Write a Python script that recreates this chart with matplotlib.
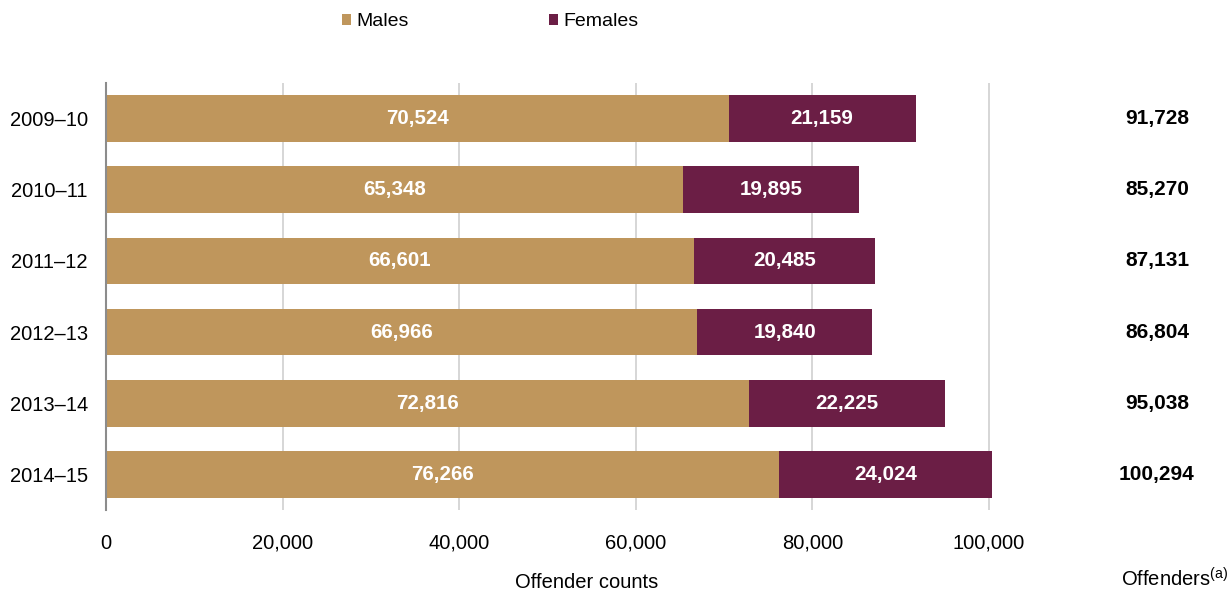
import matplotlib
matplotlib.use("Agg")
import matplotlib.pyplot as plt
import matplotlib.transforms as mtransforms

plt.rcParams["font.family"] = ["Liberation Sans", "DejaVu Sans"]
plt.rcParams["mathtext.fontset"] = "custom"
plt.rcParams["mathtext.rm"] = "Liberation Sans"

# Offender counts by financial year
years = ["2009–10", "2010–11", "2011–12", "2012–13", "2013–14", "2014–15"]
males = [70524, 65348, 66601, 66966, 72816, 76266]
females = [21159, 19895, 20485, 19840, 22225, 24024]
totals = [91728, 85270, 87131, 86804, 95038, 100294]
x_ticks = [0, 20000, 40000, 60000, 80000, 100000]

MALE_COLOR = "#BF965C"
FEMALE_COLOR = "#6B1E45"

W, H = 1230, 591
fig = plt.figure(figsize=(W / 100, H / 100), dpi=100)

ax_left, ax_right, ax_top, ax_bottom = 106, 993.4, 83, 510
ax = fig.add_axes([ax_left / W, 1 - ax_bottom / H,
                   (ax_right - ax_left) / W, (ax_bottom - ax_top) / H])

ypos = list(range(len(years)))
bar_h = 0.655
b_m = ax.barh(ypos, males, height=bar_h, color=MALE_COLOR, label="Males", zorder=2)
b_f = ax.barh(ypos, females, left=males, height=bar_h, color=FEMALE_COLOR,
              label="Females", zorder=2)

ax.bar_label(b_m, labels=[f"{v:,}" for v in males], label_type="center",
             color="white", fontsize=14.8, fontweight="bold")
ax.bar_label(b_f, labels=[f"{v:,}" for v in females], label_type="center",
             color="white", fontsize=14.8, fontweight="bold")

ax.set_xlim(0, 100500)
ax.set_ylim(len(years) - 0.5, -0.5)
ax.set_xticks(x_ticks)
ax.set_xticklabels([f"{v:,}" for v in x_ticks])
ax.set_yticks(ypos)
ax.set_yticklabels(years)
ax.tick_params(axis="both", length=0, labelsize=14.5, colors="black")
ax.tick_params(axis="x", pad=17)
ax.tick_params(axis="y", pad=13)

ax.xaxis.grid(True, color="#CFCFCF", linewidth=1.2, zorder=0)
ax.set_axisbelow(True)
for side in ("top", "right", "bottom"):
    ax.spines[side].set_visible(False)
ax.spines["left"].set_color("#8C8C8C")
ax.spines["left"].set_linewidth(1.5)
ax.spines["left"].set_zorder(3)

# Totals column to the right of the bars
trans = mtransforms.blended_transform_factory(fig.transFigure, ax.transData)
for y, t in zip(ypos, totals):
    ax.text(1157 / W, y, f"{t:,}", transform=trans, ha="center", va="center",
            fontsize=15, fontweight="bold", color="black", clip_on=False)

fig.text(587 / W, 1 - 582 / H, "Offender counts", ha="center", va="center",
         fontsize=14.5)
fig.text(1175 / W, 1 - 579 / H, r"Offenders$^{\mathrm{(a)}}$", ha="center",
         va="center", fontsize=14.5)

fig.legend(handles=[b_m, b_f], loc="center",
           bbox_to_anchor=(490 / W, 1 - 22 / H), ncol=2, frameon=False,
           fontsize=14, handlelength=0.5, handleheight=0.5,
           handletextpad=0.25, columnspacing=7.2, borderpad=0)

fig.savefig("out.png", dpi=100)
